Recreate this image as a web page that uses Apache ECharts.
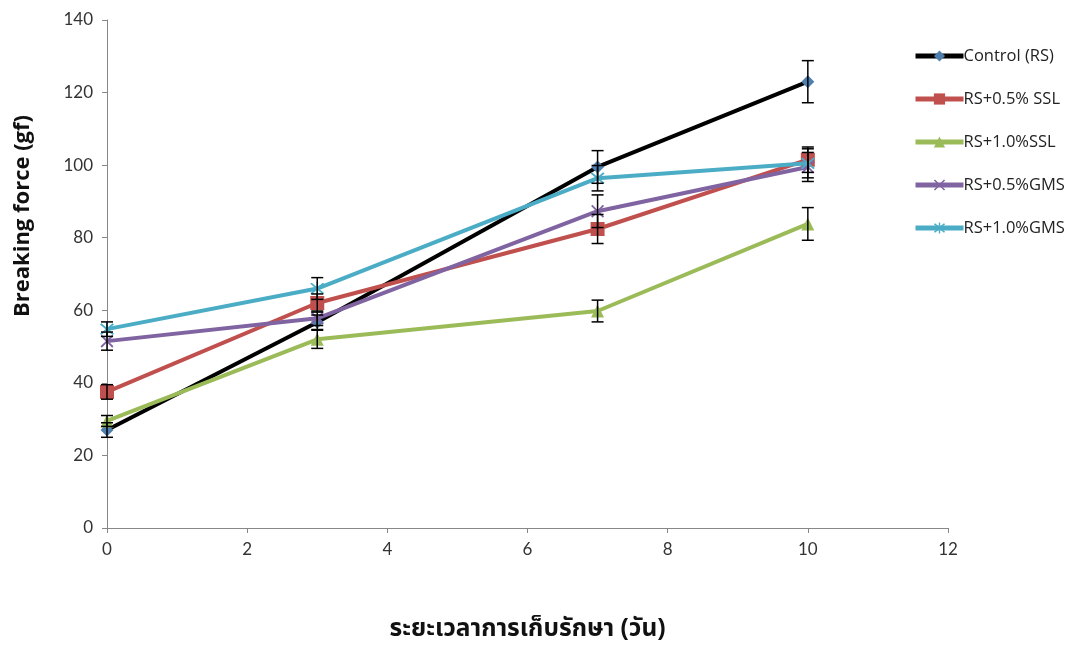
<!DOCTYPE html>
<html><head><meta charset="utf-8">
<script src="https://cdn.jsdelivr.net/npm/echarts@6/dist/echarts.min.js"></script>
<style>html,body{margin:0;padding:0;background:#fff}#c{width:1079px;height:645px}</style>
</head><body><div id="c"></div>
<script>
const days = [0, 3, 7, 10];
const seriesNames = ['Control (RS)', 'RS+0.5% SSL', 'RS+1.0%SSL', 'RS+0.5%GMS', 'RS+1.0%GMS'];
const control = [27, 56.7, 99.5, 123];
const ssl05 = [37.5, 62, 82.4, 101.5];
const ssl10 = [29.5, 52, 59.8, 83.8];
const gms05 = [51.5, 57.8, 87.3, 99.5];
const gms10 = [54.8, 66, 96.4, 100.5];
const errControl = [2, 2, 4.5, 5.8];
const errSsl05 = [2, 2.5, 4, 3.5];
const errSsl10 = [1.5, 2.5, 3, 4.5];
const errGms05 = [2.5, 2, 4.5, 4];
const errGms10 = [2, 3, 3.5, 4];
const xTicks = {min: 0, max: 12, interval: 2};
const yTicks = {min: 0, max: 140, interval: 20};
const xTitle = 'ระยะเวลาการเก็บรักษา (วัน)';
const yTitle = 'Breaking force (gf)';

const values = [control, ssl05, ssl10, gms05, gms10];
const errs = [errControl, errSsl05, errSsl10, errGms05, errGms10];
const lineColors = ['#000000', '#C0504D', '#9BBB59', '#8064A2', '#4BACC6'];
const markerColors = ['#4F7FAE', '#C0504D', '#9BBB59', '#8064A2', '#4BACC6'];
const xPath = 'path://M0,1L1,0L5,4L9,0L10,1L6,5L10,9L9,10L5,6L1,10L0,9L4,5Z';
const starPath = 'path://M0,1L1,0L5,4L9,0L10,1L6,5L10,9L9,10L5,6L1,10L0,9L4,5Z M4.4,-1L5.6,-1L5.6,11L4.4,11Z';
const symbols = ['diamond', 'rect', 'triangle', xPath, starPath];
const symSizes = [13, 14, 13, 13, 14];

const lineSeries = seriesNames.map((n, i) => ({
  name: n, type: 'line',
  data: days.map((d, j) => [d, values[i][j]]),
  symbol: symbols[i], symbolSize: symSizes[i],
  lineStyle: {color: lineColors[i], width: 4},
  itemStyle: {color: markerColors[i]},
  z: 2 + i
}));

const errData = [];
values.forEach((v, i) => days.forEach((d, j) => errData.push([d, v[j], errs[i][j]])));

const errSeries = {
  type: 'custom', name: 'err', z: 10,
  data: errData,
  renderItem: function (params, api) {
    const x = api.value(0), y = api.value(1), e = api.value(2);
    const top = api.coord([x, y + e]);
    const bot = api.coord([x, y - e]);
    const w = 6;
    const st = {stroke: '#000', lineWidth: 1.5};
    return {type: 'group', children: [
      {type: 'line', shape: {x1: top[0], y1: top[1], x2: bot[0], y2: bot[1]}, style: st},
      {type: 'line', shape: {x1: top[0] - w, y1: top[1], x2: top[0] + w, y2: top[1]}, style: st},
      {type: 'line', shape: {x1: bot[0] - w, y1: bot[1], x2: bot[0] + w, y2: bot[1]}, style: st}
    ]};
  }
};

const chart = echarts.init(document.getElementById('c'));
chart.setOption({
  backgroundColor: '#fff',
  animation: false,
  grid: {left: 107, right: 131, top: 20, bottom: 117, containLabel: false, outerBoundsMode: 'none'},
  legend: {
    data: seriesNames, orient: 'vertical', left: 908, top: 41,
    itemWidth: 48, itemHeight: 14, itemGap: 23,
    lineStyle: {width: 5},
    textStyle: {fontFamily: 'Open Sans, Lato, sans-serif', fontSize: 16.5, lineHeight: 20, color: '#222', padding: [0, 0, 0, -5]}
  },
  graphic: [{
    type: 'text', x: 23, y: 216, rotation: Math.PI / 2,
    style: {text: yTitle, textAlign: 'center', textVerticalAlign: 'middle',
      fontFamily: 'Open Sans, Lato, sans-serif', fontSize: 22, fontWeight: 'bold', fill: '#111'}
  }],
  xAxis: {
    type: 'value', min: xTicks.min, max: xTicks.max, interval: xTicks.interval,
    name: xTitle, nameLocation: 'middle', nameGap: 91,
    nameTextStyle: {fontFamily: 'Noto Sans Thai, Noto Sans, sans-serif', fontSize: 24.5, fontWeight: 'bold', color: '#111'},
    axisLine: {lineStyle: {color: '#888'}},
    axisTick: {show: true, length: 5, lineStyle: {color: '#888'}},
    axisLabel: {fontFamily: 'Lato, Open Sans, sans-serif', fontSize: 17, color: '#333', margin: 13},
    splitLine: {show: false}
  },
  yAxis: {
    type: 'value', min: yTicks.min, max: yTicks.max, interval: yTicks.interval,
    axisLine: {show: true, lineStyle: {color: '#888'}},
    axisTick: {show: true, length: 5, lineStyle: {color: '#888'}},
    axisLabel: {fontFamily: 'Lato, Open Sans, sans-serif', fontSize: 17, color: '#333', margin: 14},
    splitLine: {show: false}
  },
  series: lineSeries.concat([errSeries])
});
</script></body></html>
